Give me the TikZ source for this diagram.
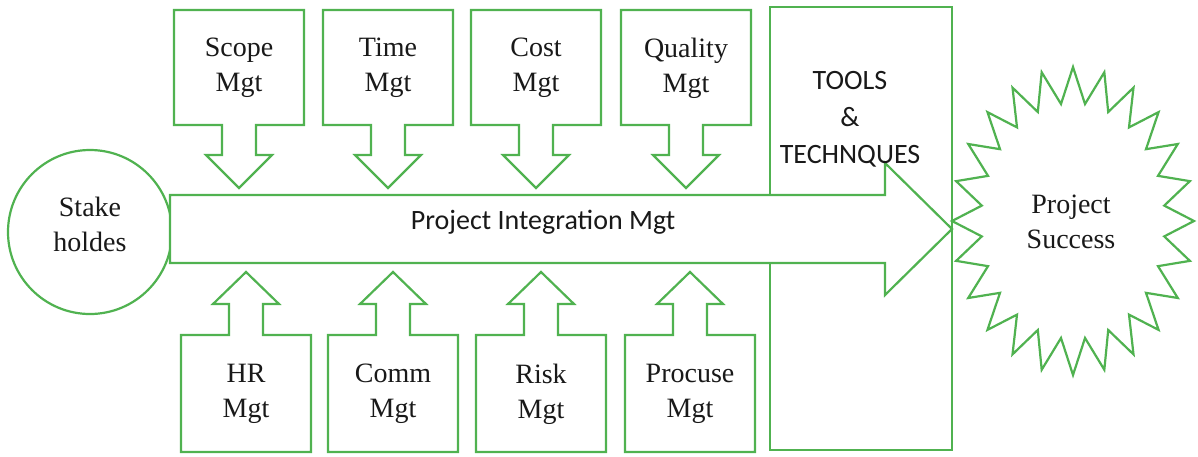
\documentclass[tikz,border=0pt]{standalone}
\usepackage{fontspec}
\setmainfont{Liberation Serif}
\newfontfamily\calib{Carlito}
\definecolor{grn}{RGB}{80,178,80}
\definecolor{ink}{RGB}{25,25,25}
\begin{document}
\begin{tikzpicture}[x=0.5pt,y=-0.5pt, line width=1.1pt,
  shp/.style={draw=grn, fill=white, line join=miter},
  lbl/.style={align=center, text=ink, font=\fontsize{14}{17.5}\selectfont, inner sep=0pt},
  sans/.style={align=center, text=ink, font=\calib\fontsize{14}{18.5}\selectfont, inner sep=0pt}]
\useasboundingbox (0,0) rectangle (1198,456);
% tools box
\draw[shp] (770,7) rectangle (952,450);
% stakeholders circle
\draw[shp] (90,232) circle[radius=82];
% starburst
\draw[shp] (1194,221) \foreach \i in {1,...,47}{ -- ({1073+(mod(\i,2)==0 ? 121 : 92)*cos(\i*7.5)}, {221-(mod(\i,2)==0 ? 154 : 118)*sin(\i*7.5)}) } -- cycle;
% top callouts
\foreach \cx in {239,388,536,686}{
  \draw[shp] (\cx-65,10) -- (\cx+65,10) -- (\cx+65,125) -- (\cx+17,125) -- (\cx+17,155) -- (\cx+33,155) -- (\cx,188) -- (\cx-33,155) -- (\cx-17,155) -- (\cx-17,125) -- (\cx-65,125) -- cycle;
}
% bottom callouts
\foreach \cx in {246,393,541,690}{
  \draw[shp] (\cx-65,452) -- (\cx+65,452) -- (\cx+65,335) -- (\cx+17,335) -- (\cx+17,304) -- (\cx+33,304) -- (\cx,272) -- (\cx-33,304) -- (\cx-17,304) -- (\cx-17,335) -- (\cx-65,335) -- cycle;
}
% main arrow
\draw[shp] (170,195) -- (885,195) -- (885,163) -- (952,229) -- (885,295) -- (885,263) -- (170,263) -- cycle;
% labels
\node[lbl] (scope) at (239,68) {Scope\\Mgt};
\node[lbl] (time) at (388,68) {Time\\Mgt};
\node[lbl] (cost) at (536,68) {Cost\\Mgt};
\node[lbl] (quality) at (686,68) {Quality\\Mgt};
\node[lbl] (hr) at (246,394) {HR\\Mgt};
\node[lbl] (comm) at (393,394) {Comm\\Mgt};
\node[lbl] (risk) at (541,394) {Risk\\Mgt};
\node[lbl] (proc) at (690,394) {Procuse\\Mgt};
\node[lbl] (stake) at (90,224) {Stake\\holdes};
\node[lbl] (success) at (1071,222) {Project\\Success};
\node[sans] (pim) at (543,222) {Project Integration Mgt};
\node[sans] (tools) at (850,119) {TOOLS\\\&\\TECHNQUES};
\end{tikzpicture}
\end{document}
